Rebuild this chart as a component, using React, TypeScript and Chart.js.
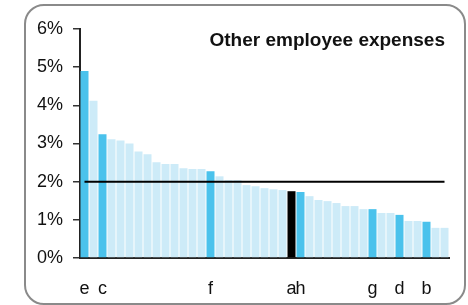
import React, { useEffect, useRef } from "react";
import { Chart, registerables } from "chart.js";

Chart.register(...registerables);

const categories: string[] = [
  "e", "", "c", "", "", "", "", "", "", "", "", "", "", "", "f", "", "", "", "", "", "",
  "", "", "a", "h", "", "", "", "", "", "", "", "g", "", "", "d", "", "", "b", "", "",
];
const values: number[] = [
  4.9, 4.12, 3.24, 3.11, 3.08, 3.0, 2.79, 2.72, 2.51, 2.46, 2.46, 2.35, 2.33, 2.33, 2.27,
  2.14, 2.04, 2.04, 1.91, 1.88, 1.83, 1.8, 1.78, 1.75, 1.73, 1.62, 1.52, 1.49, 1.44, 1.36,
  1.36, 1.28, 1.28, 1.18, 1.18, 1.13, 0.97, 0.97, 0.95, 0.79, 0.79,
];
const benchmark = 2;
const focusLabel = "a";
const yTicks: number[] = [0, 1, 2, 3, 4, 5, 6];
const title = "Other employee expenses";

const LIGHT = "#cdebf8";
const BLUE = "#4ac2ec";
const FOCUS = "#000000";
const FONT = 'Arial, "Liberation Sans", sans-serif';

export default function App() {
  const ref = useRef<HTMLCanvasElement>(null);
  useEffect(() => {
    if (!ref.current) return;
    const colors = categories.map((c) =>
      c === focusLabel ? FOCUS : c !== "" ? BLUE : LIGHT
    );
    const chart = new Chart(ref.current, {
      type: "bar",
      data: {
        labels: categories,
        datasets: [
          {
            type: "line",
            data: categories.map(() => benchmark),
            borderColor: "#000",
            borderWidth: 2,
            pointRadius: 0,
            order: 0,
          } as any,
          {
            type: "bar",
            data: values,
            backgroundColor: colors,
            borderWidth: 0,
            categoryPercentage: 1,
            barPercentage: 0.89,
            order: 1,
          },
        ],
      },
      options: {
        responsive: false,
        animation: false,
        devicePixelRatio: 1,
        layout: { padding: { left: 30, right: 19, top: 29, bottom: 0 } },
        plugins: { legend: { display: false }, tooltip: { enabled: false }, title: { display: false } },
        scales: {
          x: {
            grid: { display: false },
            border: { display: true, color: "#222", width: 2 },
            ticks: {
              autoSkip: false,
              maxRotation: 0,
              minRotation: 0,
              padding: 12,
              color: "#111",
              font: { family: FONT, size: 18 },
            },
            afterFit: (s: any) => {
              s.height = 47;
            },
          },
          y: {
            min: 0,
            max: 6,
            afterBuildTicks: (s: any) => {
              s.ticks = yTicks.map((v) => ({ value: v }));
            },
            grid: { display: true, drawOnChartArea: false, drawTicks: true, tickLength: 7, color: "#333", lineWidth: 1.5 },
            border: { display: true, color: "#222", width: 2 },
            ticks: {
              padding: 10,
              color: "#111",
              font: { family: FONT, size: 18 },
              callback: (v: any) => v + "%",
            },
            afterFit: (s: any) => {
              s.width = 50;
            },
          },
        },
      },
    });
    return () => chart.destroy();
  }, []);

  return (
    <div style={{ position: "fixed", left: 0, top: 0, width: 468, height: 305, background: "#fff" }}>
      <div
        style={{
          position: "absolute",
          left: 24,
          top: 4,
          width: 438,
          height: 297,
          border: "2px solid #8a8a8a",
          borderRadius: 20,
        }}
      />
      <canvas ref={ref} width={468} height={305} style={{ position: "absolute", left: 0, top: 0 }} />
      <div
        style={{
          position: "absolute",
          right: 23,
          top: 30,
          font: `bold 19px ${FONT}`,
          lineHeight: "19px",
          color: "#111",
          whiteSpace: "nowrap",
        }}
      >
        {title}
      </div>
    </div>
  );
}
